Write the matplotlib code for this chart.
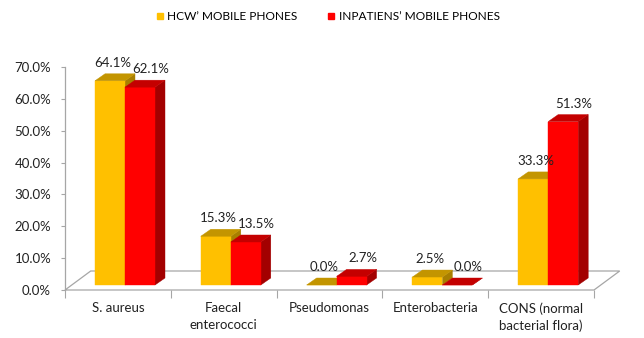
import numpy as np
import matplotlib.pyplot as plt
from matplotlib.patches import Polygon
from matplotlib.lines import Line2D

categories = ['S. aureus', 'Faecal\nenterococci', 'Pseudomonas', 'Enterobacteria',
              'CONS (normal\nbacterial flora)']
hcw = [64.1, 15.3, 0.0, 2.5, 33.3]
inpatients = [62.1, 13.5, 2.7, 0.0, 51.3]
series_names = ['HCW\u2019 MOBILE PHONES', 'INPATIENS\u2019 MOBILE PHONES']
yticks = [0, 10, 20, 30, 40, 50, 60, 70]

plt.rcParams['font.family'] = ['Lato', 'DejaVu Sans']

W, H = 644, 338
fig = plt.figure(figsize=(W / 100, H / 100), dpi=100)
ax = fig.add_axes([65 / W, 1 - 290 / H, 529 / W, 223 / H])
ax.set_xlim(0, len(categories))
ax.set_ylim(0, 70)

# pixel -> data units
px = len(categories) / 529
py = 70 / 223

grey = '#A6A6A6'

# floor of the 3d plot
fdx, fdy = 25.7 * px, 19 * py
n = len(categories)
floor = Polygon([(0, 0), (n, 0), (n + fdx, fdy), (fdx, fdy)], closed=True,
                facecolor='white', edgecolor=grey, lw=0.9, clip_on=False, zorder=1)
ax.add_patch(floor)

bar_w = 30 * px
start = 30 * px
base = 5 * py
ddx, ddy = 10 * px, 7 * py

styles = [
    ('#FFC000', '#C39500', '#A87F00'),
    ('#FF0000', '#C40000', '#A30000'),
]


def bar3d(x0, h, cols, z):
    front, top, side = cols
    y0 = base
    f = [(x0, y0), (x0 + bar_w, y0), (x0 + bar_w, y0 + h), (x0, y0 + h)]
    s = [(x0 + bar_w, y0), (x0 + bar_w + ddx, y0 + ddy),
         (x0 + bar_w + ddx, y0 + h + ddy), (x0 + bar_w, y0 + h)]
    t = [(x0, y0 + h), (x0 + bar_w, y0 + h),
         (x0 + bar_w + ddx, y0 + h + ddy), (x0 + ddx, y0 + h + ddy)]
    for pts, c in [(s, side), (f, front), (t, top)]:
        ax.add_patch(Polygon(pts, closed=True, facecolor=c, edgecolor=c,
                             lw=0.3, zorder=z, clip_on=False))


label_shift = [3 * px, 11 * px]
for i in range(n):
    for k, vals in enumerate([hcw, inpatients]):
        x0 = i + start + k * bar_w
        bar3d(x0, vals[i], styles[k], 3 + 0.1 * i + 0.01 * k)
        ax.text(x0 + bar_w / 2 + label_shift[k], base + vals[i] + ddy + 11 * py,
                f'{vals[i]:.1f}%', ha='center', va='center', fontsize=9.5,
                color='#222222', zorder=10)

# axes styling
for sp in ['top', 'right', 'bottom']:
    ax.spines[sp].set_visible(False)
ax.spines['left'].set_color(grey)
ax.spines['left'].set_linewidth(0.9)
ax.set_yticks(yticks, [f'{v:.1f}%' for v in yticks])
ax.tick_params(axis='y', length=3, color=grey, labelsize=9.5, pad=7,
               labelcolor='#222222')
ax.set_xticks(np.arange(n + 1))
ax.set_xticklabels([])
ax.tick_params(axis='x', which='major', length=6, color=grey)
ax.set_xticks(np.arange(n) + 0.5, categories, minor=True)
ax.tick_params(axis='x', which='minor', length=0, pad=9, labelsize=9.5,
               labelcolor='#222222')
for lbl in ax.get_xticklabels(minor=True):
    lbl.set_linespacing(1.45)
ax.patch.set_visible(False)

handles = [Line2D([], [], marker='s', ls='', color=styles[k][0], markersize=5)
           for k in range(2)]
fig.legend(handles, series_names, loc='upper center', bbox_to_anchor=(0.508, 1.0),
           ncol=2, frameon=False, fontsize=8.6, handletextpad=0.15,
           columnspacing=2.4, handlelength=0.9)

fig.savefig('out.png', dpi=100)
